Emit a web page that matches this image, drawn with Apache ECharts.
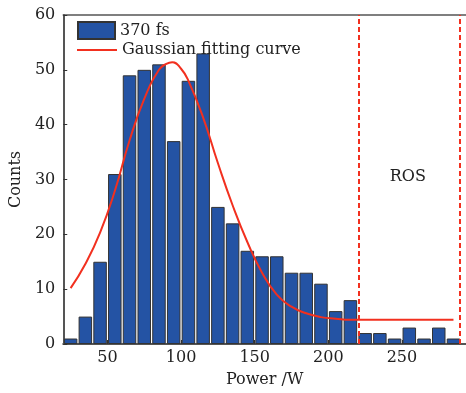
<!DOCTYPE html>
<html>
<head>
<meta charset="utf-8">
<script src="https://cdn.jsdelivr.net/npm/echarts@6/dist/echarts.min.js"></script>
<style>
  html, body { margin: 0; padding: 0; background: #fff; }
  #chart { width: 466px; height: 393px; }
</style>
</head>
<body>
<div id="chart"></div>
<script>
// bin centres (W) and counts
const binCenters = [25, 35, 45, 55, 65, 75, 85, 95, 105, 115, 125, 135, 145, 155,
  165, 175, 185, 195, 205, 215, 225, 235, 245, 255, 265, 275, 285];
const counts = [1, 5, 15, 31, 49, 50, 51, 37, 48, 53, 25, 22, 17, 16,
  16, 13, 13, 11, 6, 8, 2, 2, 1, 3, 1, 3, 1];

// points
const fitX = [25, 35, 45, 55, 65, 75, 85, 90, 94, 100, 105, 115, 125, 135, 145, 155,
  165, 175, 185, 195, 205, 215, 225, 235, 245, 255, 265, 275, 285];
const fitY = [10.2, 14.6, 20.3, 27.9, 37.1, 44.7, 50.0, 51.1, 51.4, 50.2, 48.0, 41.3, 33.0, 25.3, 18.6, 13.0,
  9.0, 6.8, 5.6, 4.9, 4.6, 4.4, 4.4, 4.4, 4.4, 4.4, 4.4, 4.4, 4.4];

// ROS region bounds
const rosBounds = [221, 289];

const xTicks = [50, 100, 150, 200, 250];

const font = 'DejaVu Serif';
const axisColor = '#555';
const red = '#f2301f';

const chart = echarts.init(document.getElementById('chart'));

const legendText = { fontFamily: font, fontSize: 16, color: '#222' };

const option = {
  animation: false,
  textStyle: { fontFamily: font },
  grid: { left: 56, right: 0, top: 15, bottom: 46 },
  legend: [
    {
      left: 72,
      top: 16,
      itemWidth: 37,
      itemHeight: 17,
      textStyle: legendText,
      data: [{ name: '370 fs', icon: 'rect' }]
    },
    {
      left: 72,
      top: 37,
      itemWidth: 40,
      itemHeight: 2,
      textStyle: legendText,
      data: [{ name: 'Gaussian fitting curve', icon: 'rect' }]
    }
  ],
  xAxis: [
    {
      type: 'value',
      min: 20,
      max: 293.5,
      name: 'Power /W',
      nameLocation: 'middle',
      nameGap: 28,
      nameTextStyle: { fontFamily: font, fontSize: 16, color: '#222' },
      splitLine: { show: false },
      axisLine: { show: true, lineStyle: { color: axisColor, width: 2 } },
      axisTick: { inside: true, length: 4, customValues: xTicks, lineStyle: { color: '#333' } },
      axisLabel: { customValues: xTicks, fontFamily: font, fontSize: 16, color: '#222', margin: 6 }
    },
    {
      type: 'value',
      position: 'top',
      min: 20,
      max: 293.5,
      splitLine: { show: false },
      axisLine: { show: true, lineStyle: { color: axisColor, width: 1.5 } },
      axisTick: { show: false },
      axisLabel: { show: false }
    }
  ],
  yAxis: {
    type: 'value',
    min: 0,
    max: 60,
    interval: 10,
    name: 'Counts',
    nameLocation: 'middle',
    nameGap: 36,
    nameTextStyle: { fontFamily: font, fontSize: 16, color: '#222' },
    splitLine: { show: false },
    axisLine: { show: true, lineStyle: { color: axisColor, width: 2 } },
    axisTick: { inside: true, length: 4, lineStyle: { color: '#333' } },
    axisLabel: { fontFamily: font, fontSize: 16, color: '#222', margin: 8 }
  },
  series: [
    {
      name: '370 fs',
      type: 'bar',
      barWidth: 13.5,
      data: binCenters.map((x, i) => [x, counts[i]]),
      itemStyle: { color: '#2453a4', borderColor: '#333', borderWidth: 1 },
      markLine: {
        silent: true,
        symbol: 'none',
        label: { show: false },
        lineStyle: { color: red, type: [5, 3], width: 2 },
        data: rosBounds.map(v => ({ xAxis: v }))
      },
      z: 2
    },
    {
      name: 'Gaussian fitting curve',
      type: 'line',
      smooth: 0.5,
      symbol: 'none',
      data: fitX.map((x, i) => [x, fitY[i]]),
      lineStyle: { color: red, width: 2 },
      itemStyle: { color: red },
      markPoint: {
        silent: true,
        symbol: 'circle',
        symbolSize: 0,
        label: { show: true, position: 'inside', formatter: 'ROS', fontFamily: font, fontSize: 16, color: '#222' },
        data: [{ coord: [254, 30.4] }]
      },
      z: 3
    }
  ]
};

chart.setOption(option);
</script>
</body>
</html>
